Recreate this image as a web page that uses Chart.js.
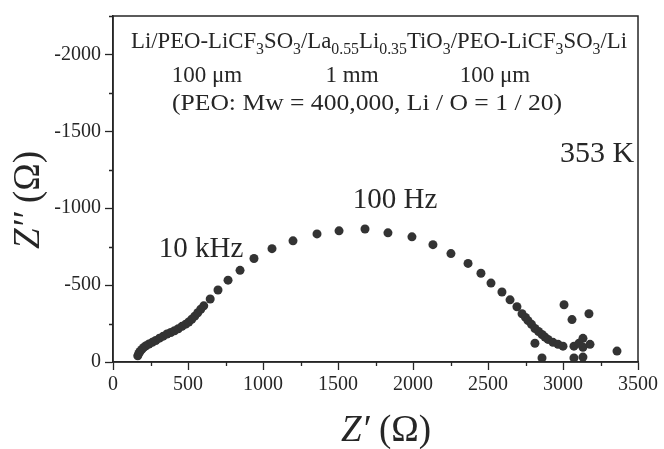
<!DOCTYPE html>
<html>
<head>
<meta charset="utf-8">
<script src="https://cdn.jsdelivr.net/npm/chart.js@4"></script>
<style>
  html, body { margin: 0; padding: 0; background: #fff; }
  #wrap { width: 664px; height: 449px; }
</style>
</head>
<body>
<div id="wrap"><canvas id="nyquist"></canvas></div>
<script>
// Z' (ohm) and -Z'' (ohm)
const zReal = [165, 172, 180, 192, 205, 220, 240, 262, 285, 310, 335, 360, 385, 410, 435, 460, 485, 505, 525, 545, 565, 585, 605,
  648, 700, 767, 847, 940, 1060, 1200, 1360, 1507, 1680, 1833, 1993, 2133, 2253, 2367, 2453, 2520, 2593, 2647, 2693, 2727,
  2750, 2767, 2790, 2813, 2837, 2860, 2880, 2900, 2933, 2967, 3000];
const zImag = [40, 55, 68, 82, 95, 106, 117, 128, 140, 155, 168, 182, 192, 203, 216, 232, 246, 260, 278, 298, 320, 343, 365,
  410, 468, 532, 596, 673, 737, 788, 833, 853, 865, 840, 814, 763, 705, 641, 577, 513, 455, 404, 359, 314,
  290, 269, 245, 218, 198, 179, 162, 147, 128, 115, 103];
// scattered low-frequency points
const tailReal = [2813, 2860, 3007, 3060, 3173, 3073, 3073, 3133, 3133, 3133, 3180, 3107, 3360];
const tailImag = [122, 26, 372, 276, 314, 103, 26, 154, 96, 32, 115, 122, 71];

const xRange = [0, 3500];
const yRange = [0, 2250];
const tickStep = 250;
const labelStep = 500;

const serif = "'Liberation Serif', 'Times New Roman', serif";
const ink = '#262626';

const points = zReal.map((x, i) => ({ x: x, y: zImag[i] }))
  .concat(tailReal.map((x, i) => ({ x: x, y: tailImag[i] })));

// draws text runs (plain / subscript) centred on cx, optionally squeezed to a width
function drawRich(ctx, parts, cx, cy, size, width) {
  const sub = Math.round(size * 0.68);
  let w = 0;
  parts.forEach(p => {
    ctx.font = (p[1] ? sub : size) + 'px ' + serif;
    w += ctx.measureText(p[0]).width;
  });
  const sx = width ? width / w : 1;
  ctx.save();
  ctx.translate(cx - w * sx / 2, cy);
  ctx.scale(sx, 1);
  let x = 0;
  parts.forEach(p => {
    ctx.font = (p[1] ? sub : size) + 'px ' + serif;
    ctx.fillText(p[0], x, p[1] ? size * 0.33 : 0);
    x += ctx.measureText(p[0]).width;
  });
  ctx.restore();
}

function axisTitle(ctx, prime, size) {
  ctx.font = 'italic ' + size + 'px ' + serif;
  const w1 = ctx.measureText('Z' + prime).width;
  ctx.font = size + 'px ' + serif;
  const w2 = ctx.measureText(' (\u03a9)').width;
  const x0 = -(w1 + w2) / 2;
  ctx.font = 'italic ' + size + 'px ' + serif;
  ctx.fillText('Z' + prime, x0, 0);
  ctx.font = size + 'px ' + serif;
  ctx.fillText(' (\u03a9)', x0 + w1, 0);
}

const decorations = {
  id: 'decorations',
  afterDraw(chart) {
    const { ctx, chartArea: a } = chart;
    const xs = chart.scales.x, ys = chart.scales.y;
    ctx.save();
    ctx.strokeStyle = ink;
    ctx.lineWidth = 1.5;
    ctx.strokeRect(a.left, a.top, a.right - a.left, a.bottom - a.top);

    // minor ticks
    ctx.lineWidth = 1.3;
    ctx.beginPath();
    xs.ticks.forEach(t => {
      if (t.value % labelStep) {
        const p = Math.round(xs.getPixelForValue(t.value)) + 0.5;
        ctx.moveTo(p, a.bottom); ctx.lineTo(p, a.bottom + 4);
      }
    });
    ys.ticks.forEach(t => {
      if (t.value % labelStep) {
        const p = Math.round(ys.getPixelForValue(t.value)) + 0.5;
        ctx.moveTo(a.left, p); ctx.lineTo(a.left - 4, p);
      }
    });
    ctx.stroke();

    ctx.fillStyle = ink;
    ctx.textBaseline = 'middle';
    ctx.textAlign = 'left';
    drawRich(ctx, [['Li/PEO-LiCF'], ['3', 1], ['SO'], ['3', 1], ['/La'], ['0.55', 1], ['Li'], ['0.35', 1],
      ['TiO'], ['3', 1], ['/PEO-LiCF'], ['3', 1], ['SO'], ['3', 1], ['/Li']], 379, 42, 23, 496);
    drawRich(ctx, [['100 \u03bcm']], 207, 76, 23);
    drawRich(ctx, [['1 mm']], 352, 76, 23);
    drawRich(ctx, [['100 \u03bcm']], 495, 76, 23);
    drawRich(ctx, [['(PEO: Mw = 400,000, Li / O = 1 / 20)']], 367, 104, 23, 390);

    drawRich(ctx, [['353 K']], 597, 154, 30);
    drawRich(ctx, [['100 Hz']], 395, 200, 29);
    drawRich(ctx, [['10 kHz']], 201, 249, 29);

    // axis titles: italic Z with upright (Ω)
    ctx.save();
    ctx.translate(386, 431);
    axisTitle(ctx, '\u2032', 37);
    ctx.restore();

    ctx.translate(29, 200);
    ctx.rotate(-Math.PI / 2);
    axisTitle(ctx, '\u2032\u2032', 37);
    ctx.restore();
  }
};

const majorTick = c => (c.tick && c.tick.value % labelStep) ? 'rgba(0,0,0,0)' : ink;

const axisCommon = {
  border: { color: ink, width: 1.5 },
  grid: { drawOnChartArea: false, tickLength: 8, tickColor: majorTick, tickWidth: 1.3 },
};

new Chart(document.getElementById('nyquist'), {
  type: 'scatter',
  data: {
    datasets: [{
      data: points,
      backgroundColor: '#333',
      borderColor: '#333',
      pointRadius: 4.5,
      pointBorderWidth: 0
    }]
  },
  options: {
    responsive: true,
    maintainAspectRatio: false,
    animation: false,
    layout: { padding: { top: 12, right: 26, left: 0, bottom: 0 } },
    scales: {
      x: Object.assign({}, axisCommon, {
        min: xRange[0], max: xRange[1],
        ticks: {
          stepSize: tickStep, autoSkip: false, maxRotation: 0, padding: 3,
          color: ink, font: { family: serif, size: 20 },
          callback: v => v % labelStep ? '' : String(v)
        },
        afterFit: s => { s.height = 87; }
      }),
      y: Object.assign({}, axisCommon, {
        min: yRange[0], max: yRange[1],
        ticks: {
          stepSize: tickStep, autoSkip: false, padding: 4,
          color: ink, font: { family: serif, size: 20 },
          callback: v => v % labelStep ? '' : (v === 0 ? '0' : '-' + v)
        },
        afterFit: s => { s.width = 113; }
      })
    },
    plugins: {
      legend: { display: false },
      tooltip: { enabled: false }
    }
  },
  plugins: [decorations]
});
</script>
</body>
</html>
